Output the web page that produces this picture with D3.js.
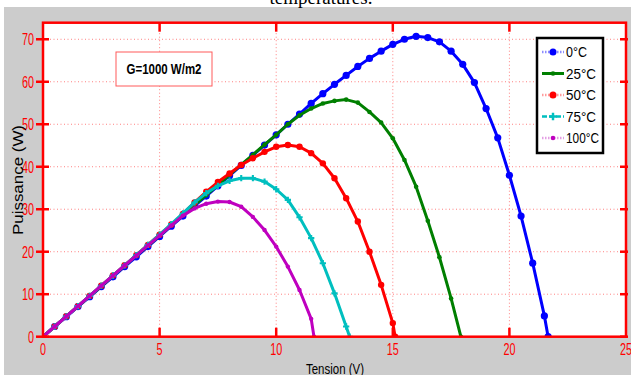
<!DOCTYPE html>
<html>
<head>
<meta charset="utf-8">
<script src="https://cdn.jsdelivr.net/npm/d3@7"></script>
<style>
body { margin:0; background:#fff; overflow:hidden; }
svg { display:block; }
text { font-family: "Liberation Sans", Arial, sans-serif; }
</style>
</head>
<body>
<div id="chart"></div>
<script>
// tension steps (V) shared by every curve, 0.5 V apart
const volt = d3.range(0, 22, 0.5);
const seriesNames = ["0°C", "25°C", "50°C", "75°C", "100°C"];
// puissance (W) at volt[i]
const p0 = [0,2.4,4.7,7.1,9.4,11.8,14.1,16.5,18.8,21.2,23.6,26.0,28.4,30.8,33.1,35.5,37.9,40.3,42.7,45.1,47.5,50.0,52.4,54.9,57.2,59.4,61.5,63.6,65.5,67.2,68.8,70.0,70.7,70.4,69.4,67.2,64.1,59.8,53.7,46.8,38.0,28.4,17.3,4.9];
const p25 = [0,2.4,4.8,7.2,9.5,11.9,14.3,16.7,19.1,21.4,23.8,26.2,28.6,31.0,33.3,35.7,38.1,40.5,42.8,45.2,47.5,50.0,52.1,53.7,54.9,55.5,55.8,55.1,52.9,50.4,46.7,41.6,35.3,27.3,18.7,9.0];
const p50 = [0,2.4,4.8,7.2,9.6,12.0,14.4,16.8,19.2,21.6,24.0,26.4,28.9,31.6,34.1,36.4,38.4,40.4,42.0,43.5,44.7,45.1,44.7,43.2,40.8,37.3,32.6,27.1,20.0,12.2,3.2];
const p75 = [0,2.4,4.8,7.2,9.6,12.0,14.4,16.8,19.2,21.6,24.0,26.5,29.0,31.6,33.8,35.5,36.7,37.3,37.3,36.5,34.7,32.2,28.1,23.2,17.3,10.2,2.4];
const p100 = [0,2.4,4.8,7.2,9.6,12.0,14.4,16.8,19.1,21.5,23.8,26.2,28.5,30.2,31.3,31.8,31.7,30.6,28.2,25.1,21.2,16.5,11.0,4.2];
// open-circuit voltage of each curve (P = 0)
const vOpen = [21.66, 17.92, 15.1, 13.15, 11.62];
const xTicks = [0,5,10,15,20,25];
const yTicks = [0,10,20,30,40,50,60,70];

const colors = ["#0000ff", "#007f00", "#ff0000", "#00bfbf", "#bf00bf"];
const W = 631, H = 375;

const svg = d3.select("#chart").append("svg").attr("width", W).attr("height", H);

svg.append("rect").attr("x", 4).attr("y", 7).attr("width", W - 4).attr("height", H - 7).attr("fill", "#cccccc");

// caption cut off at the top
svg.append("text").attr("x", 321).attr("y", 4).attr("text-anchor", "middle")
    .style("font-family", "'Liberation Serif', 'Times New Roman', serif")
    .attr("font-size", 19).text("temperatures.");

const x = d3.scaleLinear().domain([0, 25]).range([43, 626]);
const y = d3.scaleLinear().domain([0, 73.9]).range([336.7, 22.7]);

svg.append("rect").attr("x", x(0)).attr("y", y(73.9))
    .attr("width", x(25) - x(0)).attr("height", y(0) - y(73.9)).attr("fill", "#fff");

// grid
svg.append("g").selectAll("line").data(xTicks.slice(1, -1)).join("line")
    .attr("x1", d => x(d)).attr("x2", d => x(d)).attr("y1", y(73.9)).attr("y2", y(0))
    .attr("stroke", "#ff8080").attr("stroke-width", 1).attr("stroke-dasharray", "1,2.5");
svg.append("g").selectAll("line").data(yTicks.slice(1)).join("line")
    .attr("x1", x(0)).attr("x2", x(25)).attr("y1", d => y(d)).attr("y2", d => y(d))
    .attr("stroke", "#ff8080").attr("stroke-width", 1).attr("stroke-dasharray", "1,2.5");

// annotation
svg.append("rect").attr("x", 116).attr("y", 52).attr("width", 96).attr("height", 34)
    .attr("fill", "#fff").attr("stroke", "#ff5a5a").attr("stroke-width", 1);
svg.append("text").attr("x", 164).attr("y", 74).attr("text-anchor", "middle")
    .attr("font-size", 15).attr("font-weight", "bold").attr("textLength", 75).attr("lengthAdjust", "spacingAndGlyphs")
    .text("G=1000 W/m2");

// curves
const series = [p0, p25, p50, p75, p100].map((p, i) => {
    const pts = p.map((v, j) => [volt[j], v]);
    pts.push([vOpen[i], 0]);
    return pts;
});

svg.append("clipPath").attr("id", "clip").append("rect")
    .attr("x", x(0)).attr("y", y(73.9)).attr("width", x(25) - x(0)).attr("height", y(0) - y(73.9));

const line = d3.line().x(d => x(d[0])).y(d => y(d[1]));
const markR = [3.6, 2.3, 3.2, 2.3, 2.2];

const plot = svg.append("g").attr("clip-path", "url(#clip)");
series.forEach((pts, i) => {
    plot.append("path").datum(pts).attr("d", line).attr("fill", "none")
        .attr("stroke", colors[i]).attr("stroke-width", 3).attr("stroke-linejoin", "round");
    if (i === 3) {
        plot.append("g").selectAll("path").data(pts).join("path")
            .attr("transform", d => `translate(${x(d[0])},${y(d[1])})`)
            .attr("d", d3.symbol(d3.symbolCross, 22)).attr("fill", colors[i]);
    } else {
        plot.append("g").selectAll("circle").data(pts).join("circle")
            .attr("cx", d => x(d[0])).attr("cy", d => y(d[1])).attr("r", markR[i]).attr("fill", colors[i]);
    }
});

// axes box and ticks
const red = "#ff0000";
svg.append("rect").attr("x", x(0)).attr("y", y(73.9)).attr("width", x(25) - x(0)).attr("height", y(0) - y(73.9))
    .attr("fill", "none").attr("stroke", red).attr("stroke-width", 2.5);
const tk = svg.append("g").attr("stroke", red).attr("stroke-width", 2.5);
xTicks.slice(1, -1).forEach(d => {
    tk.append("line").attr("x1", x(d)).attr("x2", x(d)).attr("y1", y(0)).attr("y2", y(0) - 9);
    tk.append("line").attr("x1", x(d)).attr("x2", x(d)).attr("y1", y(73.9)).attr("y2", y(73.9) + 9);
});
yTicks.forEach(d => {
    tk.append("line").attr("x1", x(0) - 7).attr("x2", x(0) + 6).attr("y1", y(d)).attr("y2", y(d));
    tk.append("line").attr("x1", x(25) - 6).attr("x2", x(25) + 2).attr("y1", y(d)).attr("y2", y(d));
});

svg.append("g").selectAll("text").data(yTicks).join("text")
    .attr("x", 34).attr("y", d => y(d) + 6).attr("text-anchor", "end")
    .attr("font-size", 16).attr("fill", red)
    .attr("textLength", d => String(d).length * 6).attr("lengthAdjust", "spacingAndGlyphs")
    .text(d => d);
svg.append("g").selectAll("text").data(xTicks).join("text")
    .attr("x", d => x(d)).attr("y", 355).attr("text-anchor", "middle")
    .attr("font-size", 16).attr("fill", red)
    .attr("textLength", d => String(d).length * 6).attr("lengthAdjust", "spacingAndGlyphs")
    .text(d => d);

// axis titles
svg.append("text").attr("x", 335).attr("y", 374).attr("text-anchor", "middle")
    .attr("font-size", 14).attr("textLength", 58).attr("lengthAdjust", "spacingAndGlyphs").text("Tension (V)");
svg.append("text").attr("transform", "translate(23,180) rotate(-90)").attr("text-anchor", "middle")
    .attr("font-size", 14).attr("textLength", 110).attr("lengthAdjust", "spacingAndGlyphs").text("Puissance (W)");

// legend
const lg = svg.append("g");
lg.append("rect").attr("x", 537).attr("y", 38).attr("width", 66).attr("height", 115)
    .attr("fill", "#fff").attr("stroke", "#000").attr("stroke-width", 2.5);
const lgStroke = ["#8c8cff", "#007f00", "#ff9c9c", "#00bfbf", "#e39ee3"];
const lgDash = ["1.5,1.5", null, "1.5,1.5", "5,2", "1.5,1.5"];
const lgWidth = [21, 30, 30, 30, 33];
seriesNames.forEach((name, i) => {
    const ly = 52 + i * 21.5;
    lg.append("line").attr("x1", 542).attr("x2", 564).attr("y1", ly).attr("y2", ly)
        .attr("stroke", lgStroke[i]).attr("stroke-width", i === 1 ? 3 : 2.5).attr("stroke-dasharray", lgDash[i]);
    if (i === 3) {
        lg.append("path").attr("transform", `translate(553,${ly})`).attr("d", d3.symbol(d3.symbolCross, 30)).attr("fill", colors[i]);
    } else {
        lg.append("circle").attr("cx", 553).attr("cy", ly).attr("r", [3.5, 2.3, 3.5, 2.3, 2.3][i]).attr("fill", colors[i]);
    }
    lg.append("text").attr("x", 566).attr("y", ly + 5).attr("font-size", 15)
        .attr("textLength", lgWidth[i]).attr("lengthAdjust", "spacingAndGlyphs").text(name);
});
</script>
</body>
</html>
